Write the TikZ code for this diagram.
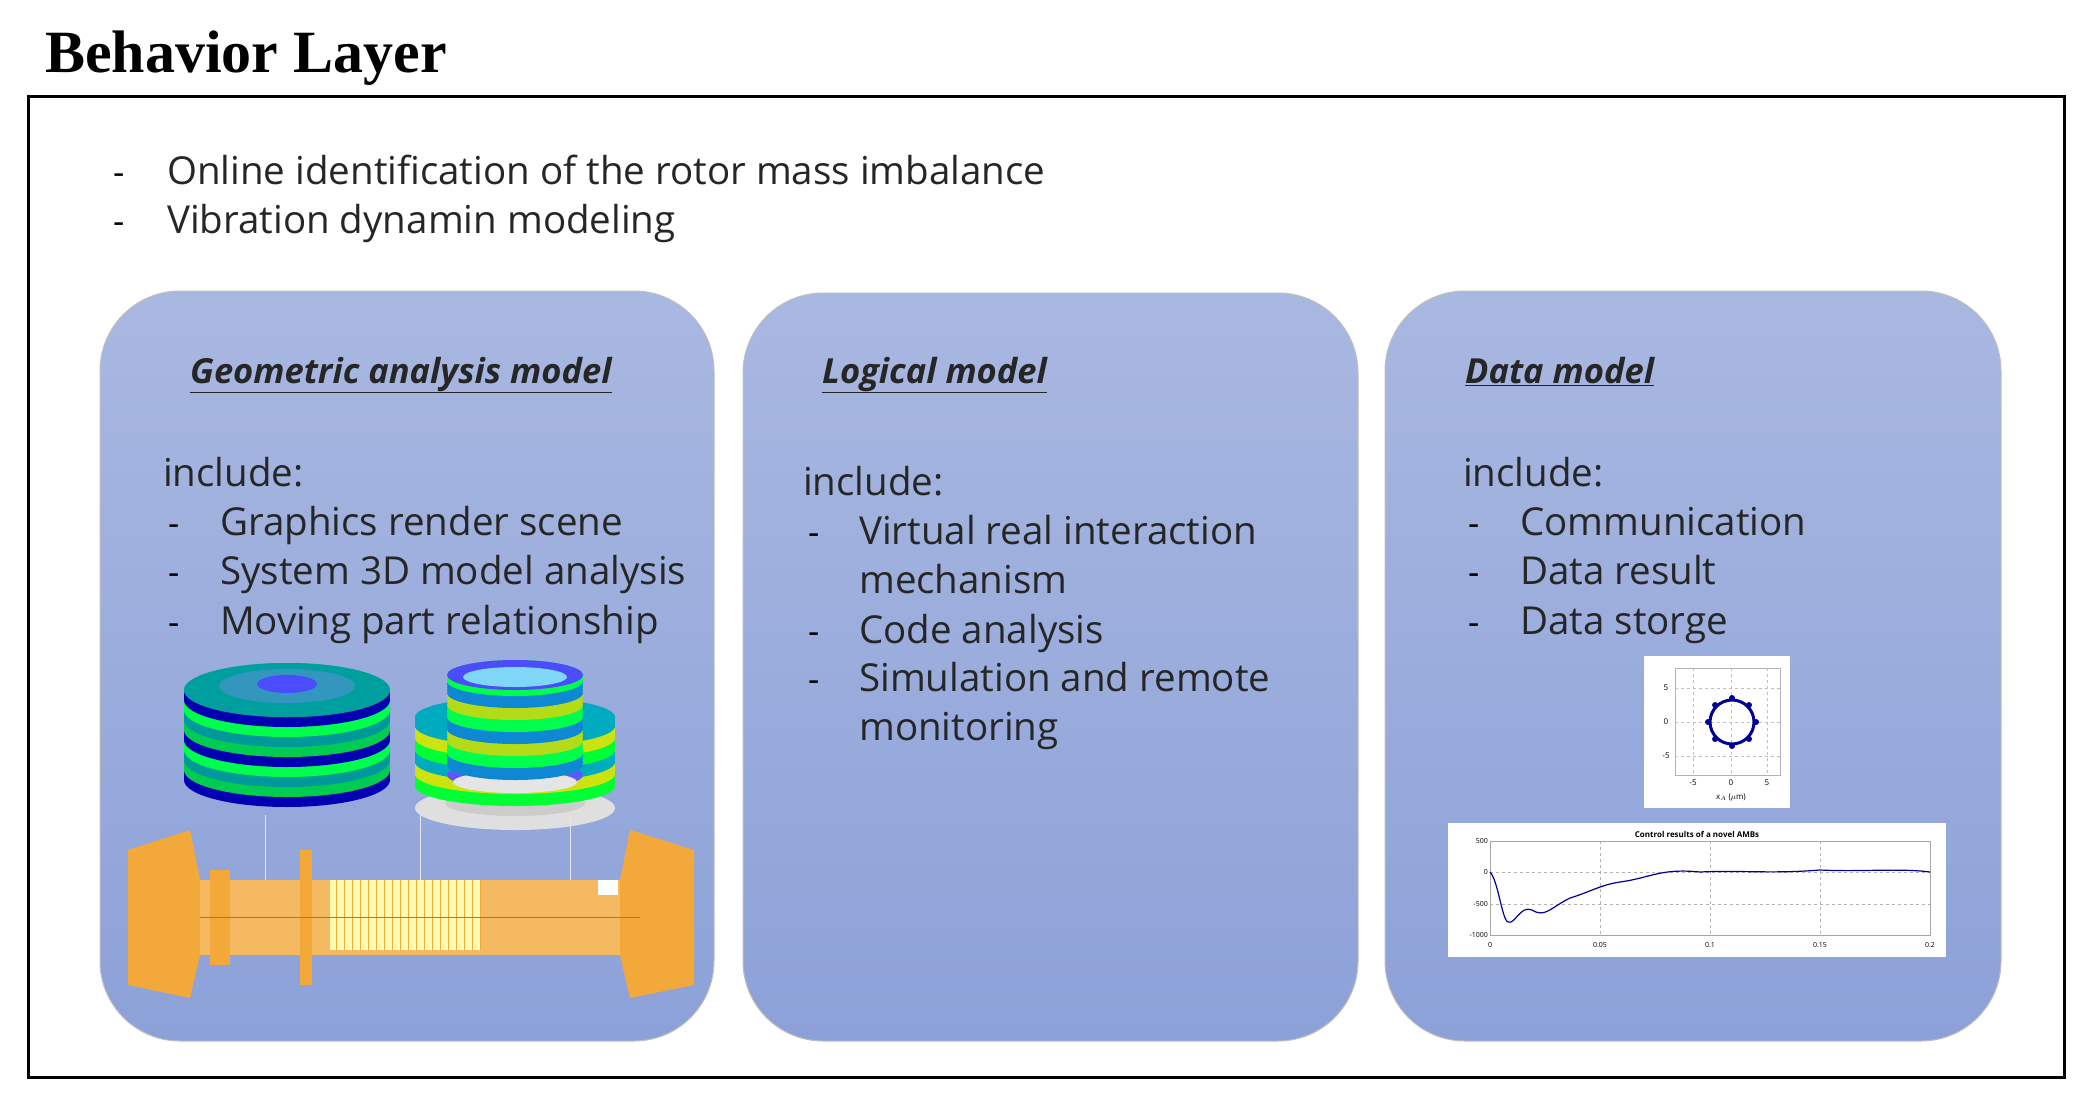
\documentclass[tikz,border=0pt]{standalone}
\usepackage{fontspec}
\usetikzlibrary{calc}
\setmainfont{Open Sans}
\newfontfamily\titlefont{Liberation Serif}
\begin{document}
\begin{tikzpicture}[x=1pt,y=-1pt,
  panel/.style={rounded corners=80pt,draw=black!25,line width=1pt,top color=pTop,bottom color=pBot},
  body/.style={anchor=base west,font=\fontsize{38.5}{40}\selectfont,text=black!85,inner sep=0},
  head/.style={anchor=base west,font=\fontsize{34.5}{36}\selectfont\bfseries\itshape,text=black!85,inner sep=0},
  dsh/.style={anchor=base west,font=\fontsize{35}{40}\selectfont,inner sep=0}]
\definecolor{pTop}{HTML}{A9B8E1}
\definecolor{pBot}{HTML}{8CA1D8}
\definecolor{shaft}{HTML}{F3A93A}
\useasboundingbox (0,0) rectangle (2092,1108);
\fill[white] (0,0) rectangle (2092,1108);
\node[anchor=base west,inner sep=0,font=\titlefont\fontsize{60}{64}\selectfont\bfseries] (title) at (45,72) {Behavior Layer};
\draw[line width=3pt] (28,96) rectangle (2064,1077);
\node[dsh] (d1) at (113,184) {-};
\node[body] (l1) at (167,184) {Online identification of the rotor mass imbalance};
\node[dsh] (d2) at (113,233) {-};
\node[body] (l2) at (167,233) {Vibration dynamin modeling};
% panels
\path[panel] (100,291) rectangle (714,1041);
\path[panel] (743,293) rectangle (1358,1041);
\path[panel] (1385,291) rectangle (2001,1041);
\node[head] (h1) at (190,383) {\underline{Geometric analysis model}};
\node[head] (h2) at (822,383) {\underline{Logical model}};
\node[head] (h3) at (1465,383) {\underline{Data model}};
% panel 1
\node[body] (i1) at (163,486) {include:};
\foreach \t/\y in {Graphics render scene/535,System 3D model analysis/584,Moving part relationship/634}{
  \node[dsh] at (168,\y) {-}; \node[body] at (220,\y) {\t};}
% panel 2
\node[body] (i2) at (803,495) {include:};
\foreach \t/\y in {Virtual real interaction/544,Code analysis/643,Simulation and remote/691}{
  \node[dsh] at (808,\y) {-}; \node[body] at (859,\y) {\t};}
\node[body] at (859,593) {mechanism};
\node[body] at (859,740) {monitoring};
% panel 3
\node[body] (i3) at (1463,486) {include:};
\foreach \t/\y in {Communication/535,Data result/584,Data storge/634}{
  \node[dsh] at (1468,\y) {-}; \node[body] at (1520,\y) {\t};}
% disk 1
\foreach \y in {780,778,...,690}{
  \pgfmathtruncatemacro\b{mod(int((780-\y)/10),4)}
  \ifnum\b=0 \def\c{blue!70!black}\fi
  \ifnum\b=1 \def\c{green!60!cyan!80!black}\fi
  \ifnum\b=2 \def\c{teal!80!cyan}\fi
  \ifnum\b=3 \def\c{green!70!cyan}\fi
  \fill[\c] (287,\y) ellipse (103 and 27);}
\fill[teal!75!cyan] (287,690) ellipse (103 and 27);
\fill[cyan!50!teal] (287,686) ellipse (68 and 17);
\fill[blue!70] (287,684) ellipse (30 and 9);
% disk 2
\fill[gray!25] (515,808) ellipse (100 and 22);
\fill[gray!40] (515,803) ellipse (70 and 13);
\foreach \y in {786,783,...,715}{
  \pgfmathtruncatemacro\b{mod(int((786-\y)/12),3)}
  \ifnum\b=0 \def\c{green!80!cyan}\fi
  \ifnum\b=1 \def\c{yellow!80!green}\fi
  \ifnum\b=2 \def\c{cyan!70!green}\fi
  \fill[\c] (515,\y) ellipse (100 and 20);}
\fill[blue!65] (515,775) ellipse (68 and 14);
\fill[gray!20] (515,782) ellipse (62 and 11);
\foreach \y in {765,762,...,675}{
  \pgfmathtruncatemacro\b{mod(int((765-\y)/12),3)}
  \ifnum\b=0 \def\c{cyan!70!blue}\fi
  \ifnum\b=1 \def\c{green!70!cyan}\fi
  \ifnum\b=2 \def\c{yellow!70!green}\fi
  \fill[\c] (515,\y) ellipse (68 and 15);}
\fill[blue!70] (515,675) ellipse (68 and 15);
\fill[cyan!50] (515,677) ellipse (52 and 10);
% shaft
\draw[white!80!gray] (265,815) -- (265,905) (420,815)--(420,905) (570,815)--(570,905);
\fill[shaft!80] (200,880) rectangle (640,955);
\fill[yellow!30] (330,880) rectangle (480,950);
\draw[shaft,step=8] (330,880) grid (480,950);
\fill[shaft] (128,850) -- (190,830) -- (200,880) -- (200,955) -- (190,998) -- (128,985) -- cycle;
\fill[shaft] (210,870) rectangle (230,965);
\fill[shaft] (300,850) rectangle (312,985);
\fill[shaft] (694,850) -- (630,830) -- (620,880) -- (620,955) -- (630,998) -- (694,985) -- cycle;
\fill[white] (598,880) rectangle (618,895);
\draw[black!50,thin] (200,917) -- (640,917);
% polar plot
\fill[white] (1644,656) rectangle (1790,808);
\draw[gray!60] (1675,668) rectangle (1780,775);
\draw[gray!50,dashed,thin] (1675,688)--(1780,688) (1675,722)--(1780,722) (1675,756)--(1780,756)
  (1693,668)--(1693,775) (1731,668)--(1731,775) (1767,668)--(1767,775);
\draw[blue!60!black,line width=3pt] (1732,722) circle (22);
\foreach \a in {0,45,...,315} \fill[blue!60!black] ($(1732,722)+(\a:24)$) circle (3);
\node[font=\fontsize{8}{9}\selectfont,inner sep=0] at (1666,688) {5};
\node[font=\fontsize{8}{9}\selectfont,inner sep=0] at (1666,722) {0};
\node[font=\fontsize{8}{9}\selectfont,inner sep=0] at (1666,756) {-5};
\node[font=\fontsize{8}{9}\selectfont,inner sep=0] at (1693,783) {-5};
\node[font=\fontsize{8}{9}\selectfont,inner sep=0] at (1731,783) {0};
\node[font=\fontsize{8}{9}\selectfont,inner sep=0] at (1767,783) {5};
\node[font=\fontsize{8}{9}\selectfont,inner sep=0] at (1731,797) {x$_A$ ($\mu$m)};
% time plot
\fill[white] (1448,823) rectangle (1946,957);
\node[font=\fontsize{8}{9}\selectfont\bfseries,inner sep=0] at (1697,834) {Control results of a novel AMBs};
\draw[gray!70] (1490,841) rectangle (1930,935);
\draw[gray!60,dashed,thin] (1490,872)--(1930,872) (1490,904)--(1930,904)
  (1600,841)--(1600,935) (1710,841)--(1710,935) (1820,841)--(1820,935);
\draw[blue!60!black,line width=1.2pt] (1490,872) .. controls (1498,880) and (1502,920) .. (1508,922)
  .. controls (1515,925) and (1520,905) .. (1532,910) .. controls (1545,918) and (1550,908) .. (1570,898)
  .. controls (1590,892) and (1600,885) .. (1620,882) .. controls (1650,878) and (1660,868) .. (1700,872)
  .. controls (1740,870) and (1770,874) .. (1820,870) .. controls (1860,872) and (1900,868) .. (1930,872);
\foreach \t/\x in {0/1490,0.05/1600,0.1/1710,0.15/1820,0.2/1930}
  \node[font=\fontsize{7}{8}\selectfont,inner sep=0] at (\x,945) {\t};
\foreach \t/\y in {500/841,0/872,-500/904,-1000/935}
  \node[font=\fontsize{7}{8}\selectfont,inner sep=0,anchor=east] at (1488,\y) {\t};
\end{tikzpicture}
\end{document}
